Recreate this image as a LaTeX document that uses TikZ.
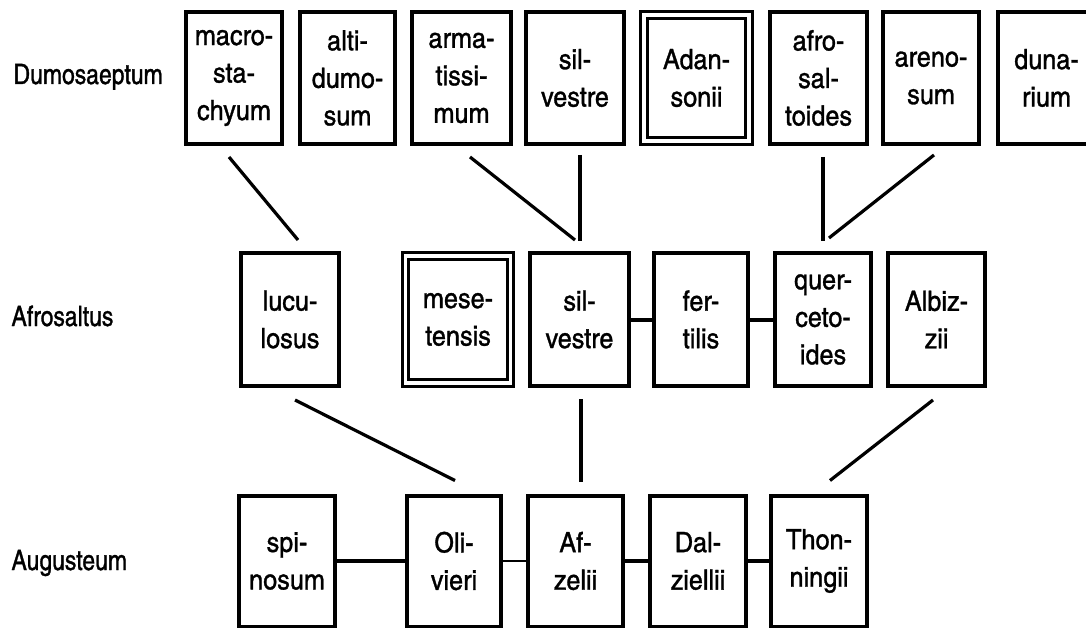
\documentclass[tikz,border=0pt]{standalone}
\usepackage{fontspec}
\setmainfont{texgyreheroscn-regular.otf}[FakeBold=1.1]
\newfontfamily\boxfont{texgyreheroscn-regular.otf}[FakeStretch=1.1,FakeBold=1.1]
\usetikzlibrary{calc}

\begin{document}
\begin{tikzpicture}[x=1pt,y=-1pt,
  txt/.style={font=\fontsize{28}{37.5}\selectfont},
  box/.style={font=\boxfont\fontsize{28}{37.5}\selectfont,draw,line width=4pt,
    inner sep=0pt,align=center,minimum width=96pt,minimum height=132pt},
  twin/.style={box,double,line width=3pt,double distance=3.4pt,
    minimum width=105pt,minimum height=126pt},
  link/.style={line width=3.2pt},
  bar/.style={line width=4pt},
  thinbar/.style={line width=1.6pt}]
\useasboundingbox (0,0) rectangle (1086,628);
\clip (0,0) rectangle (1086,628);

\node[txt,anchor=base west] (dumo) at (10,84) {Dumosaeptum};
\node[txt,anchor=base west] (afro) at (8,326) {Afrosaltus};
\node[txt,anchor=base west] (augu) at (8,570) {Augusteum};

\node[box] (macro) at (234,78) {macro-\\sta-\\chyum};
\node[box,minimum width=95pt] (alti) at (347.5,78) {alti-\\dumo-\\sum};
\node[box,minimum width=99pt] (arma) at (461.5,78) {arma-\\tissi-\\mum};
\node[box,minimum width=98pt] (silvA) at (575,78) {sil-\\vestre};
\node[twin] (adan) at (696.5,78) {Adan-\\sonii};
\node[box,minimum width=97pt] (afrosal) at (818.5,78) {afro-\\sal-\\toides};
\node[box] (areno) at (931,78) {areno-\\sum};
\node[box,minimum width=97pt] (duna) at (1046.5,78) {duna-\\rium};

\node[box,minimum width=98pt,minimum height=133pt] (lucu) at (290,319.5) {lucu-\\losus};
\node[twin,minimum height=127pt] (mese) at (458,319.5) {mese-\\tensis};
\node[box,minimum width=99pt,minimum height=133pt] (silvB) at (579.5,319.5) {sil-\\vestre};
\node[box,minimum width=94pt,minimum height=133pt] (fer) at (701,319.5) {fer-\\tilis};
\node[box,minimum height=133pt] (quer) at (823,319.5) {quer-\\ceto-\\ides};
\node[box,minimum width=97pt,minimum height=133pt] (albiz) at (936.5,319.5) {Albiz-\\zii};

\node[box,minimum height=131pt] (spi) at (287,561) {spi-\\nosum};
\node[box,minimum width=94pt,minimum height=131pt] (oli) at (454,561) {Oli-\\vieri};
\node[box,minimum width=95pt,minimum height=131pt] (afz) at (575.5,561) {Af-\\zelii};
\node[box,minimum height=131pt] (dal) at (698,561) {Dal-\\ziellii};
\node[box,minimum height=131pt] (thon) at (819,561) {Thon-\\ningii};

\draw [link] ($(macro.south)+(-5,11)$) -- ($(lucu.north)+(8,-11)$);
\draw [link] ($(arma.south)+(8.5,11)$) -- ($(silvB.north)+(-4.5,-11)$);
\draw [link] ($(silvA.south)+(5,9)$) -- ($(silvB.north)+(0.5,-10)$);
\draw [link] ($(afrosal.south)+(4.5,11)$) -- ($(quer.north)+(0,-10)$);
\draw [link] ($(areno.south)+(3,9)$) -- ($(quer.north)+(6,-13)$);

\draw [link] ($(lucu.south)+(5,12)$) -- ($(oli.north)+(1,-13)$);
\draw [link] ($(silvB.south)+(1.5,11)$) -- ($(afz.north)+(5.5,-12)$);
\draw [link] ($(albiz.south)+(-3.5,12)$) -- ($(thon.north)+(11,-13)$);

\draw [bar] (silvB) -- (fer);
\draw [bar] (fer) -- (quer);
\draw [bar] (spi) -- (oli);
\draw [thinbar] (oli) -- (afz);
\draw [bar] (afz) -- (dal);
\draw [bar] (dal) -- (thon);
\end{tikzpicture}
\end{document}
